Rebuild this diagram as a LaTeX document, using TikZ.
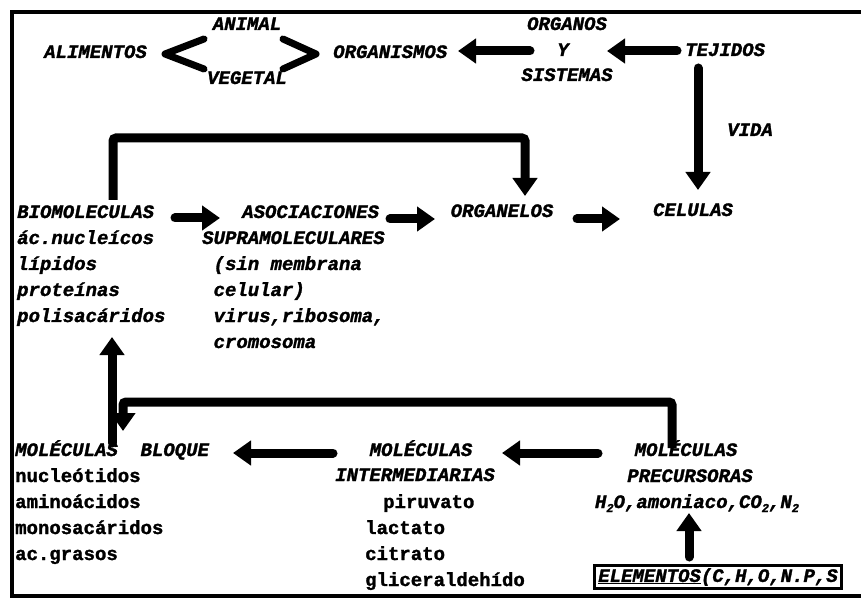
\documentclass[tikz,border=0pt]{standalone}
\usepackage{fontspec}
\newfontfamily\tw[BoldFeatures={FakeBold=1.5},BoldItalicFeatures={FakeBold=1.5}]{Liberation Mono}
\usetikzlibrary{arrows.meta}
\newcommand{\fsz}{\fontsize{19}{26}\selectfont}
\newcommand{\sbt}[1]{\raisebox{-4pt}{\fontsize{12}{12}\selectfont #1}}
\begin{document}
\begin{tikzpicture}[x=1pt,y=-1pt,
  lbl/.style={font=\tw\bfseries\itshape\fsz, inner sep=0pt, anchor=base},
  lblw/.style={lbl, anchor=base west},
  lblu/.style={font=\tw\bfseries\fsz, inner sep=0pt, anchor=base west},
  barrow/.style={line width=9pt, line cap=round, -{Triangle[length=18pt,width=24pt]}},
  bline/.style={line width=9pt, rounded corners=3pt, -{Triangle[length=18pt,width=24pt]}},
  frame/.style={line width=3.5pt},
  chev/.style={line width=7pt, line cap=round, line join=round}]
\useasboundingbox (0,0) rectangle (861,601);
\draw[frame] (861,12) -- (12,12) -- (12,596) -- (861,596);

% top row
\node[lblw] (alim) at (44,58) {ALIMENTOS};
\node[lbl] (animal) at (247,30) {ANIMAL};
\node[lbl] (veget) at (247,84) {VEGETAL};
\draw[chev] (204,39) -- (165,54) -- (204,69);
\draw[chev] (283,39) -- (316,54) -- (283,69);
\node[lblw] (orgm) at (333,58) {ORGANISMOS};
\node[lbl] (orgn) at (567,30) {ORGANOS};
\node[lbl] (yy) at (563,56) {Y};
\node[lbl] (sist) at (567,81) {SISTEMAS};
\node[lblw] (tej) at (685,56) {TEJIDOS};
\node[lbl] (vida) at (750,136) {VIDA};

\coordinate (a1s) at (530,51); \coordinate (a1e) at (458,51);
\coordinate (a2s) at (677,51); \coordinate (a2e) at (607,51);
\coordinate (a3s) at (698,68); \coordinate (a3e) at (698,190);
\draw[barrow] (a1s) -- (a1e);
\draw[barrow] (a2s) -- (a2e);
\draw[barrow] (a3s) -- (a3e);

% middle row
\node[lblw] (bio) at (17,218) {\begin{tabular}[t]{@{}l@{}}BIOMOLECULAS\\ác.nucleícos\\lípidos\\proteínas\\polisacáridos\end{tabular}};
\node[lblw] (asocA) at (242,218) {ASOCIACIONES};
\node[lblw] (asocB) at (202,244) {\begin{tabular}[t]{@{}l@{}}SUPRAMOLECULARES\\\hspace{0.6em}(sin membrana\\\hspace{0.6em}celular)\\\hspace{0.6em}virus,ribosoma,\\\hspace{0.6em}cromosoma\end{tabular}};
\node[lbl] (orgl) at (502,217) {ORGANELOS};
\node[lbl] (cel) at (693,216) {CELULAS};

\coordinate (a4s) at (175,218); \coordinate (a4e) at (220,218);
\coordinate (a5s) at (390,219); \coordinate (a5e) at (435,219);
\coordinate (a6s) at (577,219); \coordinate (a6e) at (620,219);
\draw[barrow] (a4s) -- (a4e);
\draw[barrow] (a5s) -- (a5e);
\draw[barrow] (a6s) -- (a6e);

\coordinate (b1s) at (113,200); \coordinate (b1e) at (525,196);
\draw[bline] (b1s) -- (113,138) -- (525,138) -- (b1e);

% bottom row
\node[lblw] (mb) at (15,456) {MOLÉCULAS\hspace{1.2em}BLOQUE};
\node[lblu] (mbl) at (15,482) {\begin{tabular}[t]{@{}l@{}}nucleótidos\\aminoácidos\\monosacáridos\\ac.grasos\end{tabular}};
\node[lbl] (miA) at (421,456) {MOLÉCULAS};
\node[lbl] (miB) at (415,481) {INTERMEDIARIAS};
\node[lblu] (miC) at (365,508) {\begin{tabular}[t]{@{}l@{}}\hspace{18pt}piruvato\\lactato\\citrato\\gliceraldehído\end{tabular}};
\node[lbl] (mpA) at (686,456) {MOLÉCULAS};
\node[lbl] (mpB) at (690,482) {PRECURSORAS};
\node[lbl] (mpC) at (697,508) {H\sbt{2}O,amoniaco,CO\sbt{2},N\sbt{2}};
\node[lbl, anchor=center, draw, line width=3pt, inner xsep=4pt, inner ysep=3pt] (elem) at (718,577) {\underline{ELEMENTOS}(C,H,O,N.P,S};

\coordinate (c1s) at (112,443); \coordinate (c1e) at (112,337);
\draw[barrow] (c1s) -- (c1e);
\coordinate (b2s) at (672,448); \coordinate (b2e) at (123,431);
\draw[bline] (b2s) -- (672,402) -- (123,402) -- (b2e);
\coordinate (a7s) at (333,453); \coordinate (a7e) at (233,453);
\coordinate (a8s) at (598,453); \coordinate (a8e) at (502,453);
\coordinate (a9s) at (689,557); \coordinate (a9e) at (689,513);
\draw[barrow] (a7s) -- (a7e);
\draw[barrow] (a8s) -- (a8e);
\draw[barrow] (a9s) -- (a9e);
\end{tikzpicture}
\end{document}
